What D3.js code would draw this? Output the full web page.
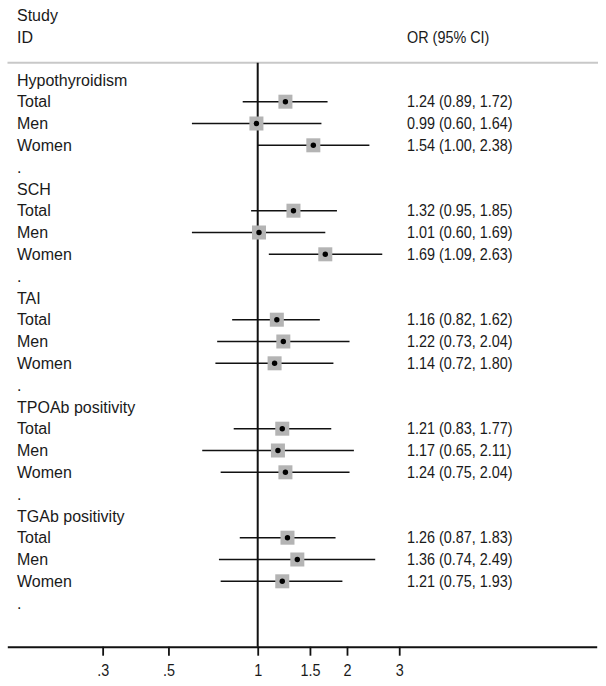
<!DOCTYPE html>
<html>
<head>
<meta charset="utf-8">
<script src="https://cdn.jsdelivr.net/npm/d3@7"></script>
<style>
  html, body { margin: 0; padding: 0; background: #fff; }
  svg { display: block; }
  text { font-family: "Liberation Sans", Arial, sans-serif; fill: #1a1a1a; }
</style>
</head>
<body>
<svg id="chart" width="606" height="686"></svg>
<script>
// ---- data ----
const groups = ["Hypothyroidism", "SCH", "TAI", "TPOAb positivity", "TGAb positivity"];
const subgroups = ["Total", "Men", "Women"];
const estimates = [1.24, 0.99, 1.54, 1.32, 1.01, 1.69, 1.16, 1.22, 1.14, 1.21, 1.17, 1.24, 1.26, 1.36, 1.21];
const lowers    = [0.89, 0.60, 1.00, 0.95, 0.60, 1.09, 0.82, 0.73, 0.72, 0.83, 0.65, 0.75, 0.87, 0.74, 0.75];
const uppers    = [1.72, 1.64, 2.38, 1.85, 1.69, 2.63, 1.62, 2.04, 1.80, 1.77, 2.11, 2.04, 1.83, 2.49, 1.93];
const tickValues = [0.3, 0.5, 1, 1.5, 2, 3];
const tickLabels = [".3", ".5", "1", "1.5", "2", "3"];
const headerLeft = ["Study", "ID"];
const headerRight = "OR (95% CI)";

// ---- build rows ----
const rows = [];
let k = 0;
groups.forEach(g => {
  rows.push({type: "head", label: g});
  subgroups.forEach(s => {
    rows.push({type: "est", label: s, est: estimates[k], lo: lowers[k], hi: uppers[k]});
    k++;
  });
  rows.push({type: "blank", label: "."});
});

const svg = d3.select("#chart");
const FS = 16;
const SX = 0.9; // horizontal compression of the right-hand column / tick text

const x = d3.scaleLog().domain([0.1431, 13.9]).range([7.3, 596.7]);
const y = d3.scaleLinear().domain([0, rows.length - 1]).range([79.9, 603.1]);
const axisY = 646.7;
const labelX = 17;
const valueX = 407;
const fmt = d3.format(".2f");

function narrowText(sel, tx, ty, str) {
  sel.append("text")
    .attr("transform", `translate(${tx},${ty}) scale(${SX},1)`)
    .attr("dy", "0.35em").attr("font-size", FS).text(str);
}

// header
svg.append("text").attr("x", labelX).attr("y", 15).attr("dy", "0.35em").attr("font-size", FS).text(headerLeft[0]);
svg.append("text").attr("x", labelX).attr("y", 37).attr("dy", "0.35em").attr("font-size", FS).text(headerLeft[1]);
narrowText(svg, valueX, 37, headerRight);

// separator
svg.append("line").attr("x1", 7.5).attr("x2", 598).attr("y1", 62.7).attr("y2", 62.7)
  .attr("stroke", "#c8c8c8").attr("stroke-width", 2);

// vertical null line
svg.append("line").attr("x1", x(1)).attr("x2", x(1)).attr("y1", 62.7).attr("y2", axisY)
  .attr("stroke", "#111").attr("stroke-width", 2);

// row labels
svg.append("g").selectAll("text").data(rows).join("text")
  .attr("x", labelX).attr("y", (d, i) => y(i)).attr("dy", "0.35em")
  .attr("font-size", FS).text(d => d.label);

const est = rows.map((d, i) => Object.assign({i}, d)).filter(d => d.type === "est");

// CI lines
svg.append("g").selectAll("line").data(est).join("line")
  .attr("x1", d => x(d.lo)).attr("x2", d => x(d.hi))
  .attr("y1", d => y(d.i)).attr("y2", d => y(d.i))
  .attr("stroke", "#111").attr("stroke-width", 1.6);

// boxes
const B = 14;
svg.append("g").selectAll("rect").data(est).join("rect")
  .attr("x", d => x(d.est) - B / 2).attr("y", d => y(d.i) - B / 2)
  .attr("width", B).attr("height", B).attr("fill", "#b4b4b4");

// point estimate dots
svg.append("g").selectAll("circle").data(est).join("circle")
  .attr("cx", d => x(d.est)).attr("cy", d => y(d.i)).attr("r", 2.7).attr("fill", "#000");

// values text
svg.append("g").selectAll("text").data(est).join("text")
  .attr("transform", d => `translate(${valueX},${y(d.i)}) scale(${SX},1)`)
  .attr("dy", "0.35em").attr("font-size", FS)
  .text(d => `${fmt(d.est)} (${fmt(d.lo)}, ${fmt(d.hi)})`);

// axis
const axis = d3.axisBottom(x).tickValues(tickValues)
  .tickFormat((d, i) => tickLabels[i]).tickSize(9).tickSizeOuter(0).tickPadding(9);
const gAxis = svg.append("g").attr("transform", `translate(0,${axisY})`).call(axis);
gAxis.select(".domain").attr("stroke", "#111").attr("stroke-width", 2);
gAxis.selectAll(".tick line").attr("stroke", "#111").attr("stroke-width", 1.8);
gAxis.selectAll(".tick text").attr("font-size", FS).attr("fill", "#1a1a1a")
  .attr("font-family", "Liberation Sans, Arial, sans-serif")
  .attr("transform", `scale(${SX},1)`);
</script>
</body>
</html>
